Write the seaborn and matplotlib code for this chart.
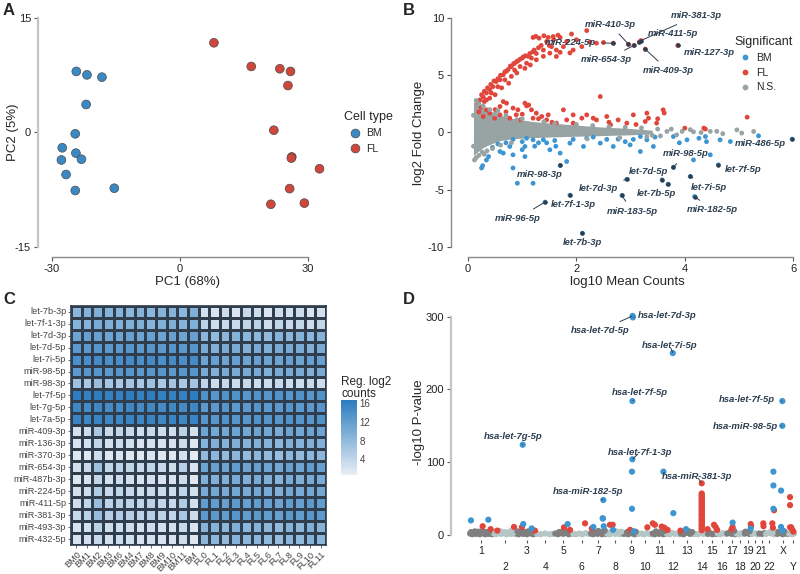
import numpy as np
import pandas as pd
import matplotlib
matplotlib.use('Agg')
import matplotlib.pyplot as plt
import seaborn as sns
from matplotlib.colors import LinearSegmentedColormap

sns.set_theme(style='ticks')
plt.rcParams['font.family'] = ['Liberation Sans', 'DejaVu Sans']
plt.rcParams['axes.unicode_minus'] = False

# ---------------- data ----------------
# A: PCA
bm_pc1 = [-24.3, -21.8, -18.3, -22.0, -24.55, -27.6, -24.4, -27.8, -23.1, -26.7, -24.55, -15.4]
bm_pc2 = [8.0, 7.55, 7.25, 3.67, -0.17, -2.0, -2.7, -3.6, -3.5, -5.5, -7.6, -7.3]
fl_pc1 = [7.95, 16.7, 23.4, 25.9, 25.3, 22.0, 26.2, 26.1, 32.7, 25.7, 21.3, 29.15]
fl_pc2 = [11.75, 8.65, 8.35, 8.0, 6.15, 0.3, -3.2, -3.35, -4.75, -7.35, -9.4, -9.25]

# B: MA plot (log10 mean counts, log2 fold change)
fl_pts = [(0.18, 2.6), (0.22, 2.85), (0.25, 3.3), (0.28, 3.1), (0.3, 3.6), (0.34, 3.45), (0.36, 3.9),
          (0.40, 3.75), (0.42, 4.2), (0.46, 4.0), (0.48, 4.5), (0.52, 4.45), (0.55, 4.7), (0.59, 4.6),
          (0.60, 5.0), (0.65, 5.05), (0.68, 5.3), (0.71, 5.35), (0.74, 5.5), (0.78, 5.8), (0.80, 5.75),
          (0.84, 6.0), (0.86, 6.05), (0.90, 6.2), (0.92, 6.25), (0.96, 6.4), (1.0, 6.5), (1.02, 6.6),
          (1.06, 6.7), (1.11, 6.65), (1.14, 6.9), (1.2, 7.05), (1.22, 7.2), (1.26, 6.9), (1.3, 7.4),
          (1.35, 7.6), (1.39, 7.2), (1.45, 7.95), (1.5, 7.6), (1.54, 7.5), (1.58, 8.1), (1.63, 7.2),
          (1.66, 8.5), (1.7, 8.3), (1.76, 7.5), (1.82, 7.95), (1.88, 6.95), (1.91, 8.6), (1.94, 7.2),
          (2.0, 8.1), (2.1, 7.5), (2.19, 8.9), (2.25, 7.9), (2.37, 7.8), (2.5, 7.86), (1.31, 8.24),
          (1.2, 8.3), (1.25, 8.4), (1.4, 8.45), (1.48, 8.3), (1.57, 8.38), (0.8, 4.9), (0.96, 5.76),
          (1.08, 6.05), (1.17, 6.5), (0.86, 5.45), (0.68, 4.6), (0.55, 4.0), (0.43, 3.45), (0.34, 2.85),
          (1.26, 6.35), (1.39, 6.65), (1.51, 6.93), (1.63, 6.64), (1.05, 5.6), (0.9, 5.2), (0.75, 4.3),
          (0.62, 3.9), (1.7, 7.0), (1.15, 5.9), (0.5, 3.3), (0.4, 3.0), (0.3, 2.7),
          (2.68, 7.8), (2.96, 7.71), (3.06, 7.6), (3.19, 8.03), (3.16, 7.89), (3.27, 7.28), (3.87, 7.6),
          (0.65, 2.7), (0.71, 2.56), (0.59, 2.27), (0.83, 2.13), (0.92, 1.98), (1.05, 2.56), (1.08, 2.33),
          (1.17, 1.98), (1.26, 1.69), (1.36, 1.4), (1.48, 1.54), (1.76, 1.98), (1.94, 1.54), (2.44, 3.14),
          (2.19, 1.54), (2.31, 1.25), (2.56, 1.4), (2.77, 1.1), (3.05, 1.54), (3.3, 1.69), (3.33, 1.25),
          (3.6, 1.98), (4.0, 0.38), (4.35, 0.38), (5.15, 1.34), (0.4, 1.69), (0.34, 1.98), (0.28, 1.4),
          (0.49, 1.25), (0.77, 1.25), (0.96, 1.1), (1.45, 1.1), (1.63, 0.82), (1.2, 1.25), (1.94, 0.82),
          (2.63, 0.67), (2.93, 0.82), (3.27, 0.96), (3.48, 0.82), (0.59, 1.54), (0.89, 1.54), (1.82, 1.1),
          (2.37, 1.1), (2.1, 1.25), (0.24, 2.2), (0.2, 1.8), (0.5, 2.0), (0.7, 1.8), (1.0, 1.6),
          (1.12, 2.4), (1.3, 1.2), (1.55, 0.9), (2.6, 0.9), (3.1, 0.7), (3.5, 1.2), (3.62, 1.7), (4.38, 0.3)]
bm_pts = [(0.25, -3.1), (0.27, -2.9), (0.34, -2.4), (0.38, -2.1), (0.59, -1.66), (0.65, -1.8), (0.83, -1.95),
          (1.05, -2.1), (1.05, -1.22), (1.08, -0.5), (0.83, -0.6), (0.77, -1.22), (1.2, -0.64), (1.23, -1.2),
          (1.39, -0.64), (1.45, -0.9), (1.51, -1.51), (1.62, -1.2), (1.7, -1.8), (1.82, -2.53), (1.7, -2.88),
          (0.83, -3.1), (0.91, -4.43), (1.2, -4.43), (1.88, -5.47), (1.42, -6.08), (2.11, -8.79), (2.84, -5.5),
          (2.93, -4.08), (3.58, -4.13), (3.69, -4.51), (3.79, -3.03), (4.10, -3.84), (4.18, -5.59),
          (4.62, -2.82), (5.98, -0.58), (2.19, -0.5), (2.31, -0.4), (2.44, -0.93), (2.56, -0.6),
          (2.68, -1.22), (2.99, -1.08), (3.05, -0.6), (3.18, -1.66), (3.42, -1.22), (3.45, -0.4),
          (3.79, -0.35), (4.04, -0.64), (4.16, -2.39), (4.26, -0.5), (4.38, -0.35), (4.47, -1.95),
          (4.65, -0.64), (4.84, -0.79), (5.36, -0.29), (2.13, -1.22), (1.94, -0.6), (1.88, -0.93),
          (3.18, -0.35), (2.77, -0.58), (2.9, -0.8), (3.3, -0.64), (0.45, -1.3), (0.55, -1.0), (0.7, -0.9),
          (1.0, -0.8), (1.3, -0.9), (1.6, -0.7), (1.0, -1.5), (3.9, -0.9), (4.4, -0.8)]
ns_pts = [(0.12, -2.4), (0.15, -2.2), (0.2, -2.0), (0.26, -1.7), (0.3, -1.9), (0.45, -1.4), (0.6, -1.1),
          (0.8, -0.9), (0.15, 2.8), (0.2, 2.5), (0.28, 2.3), (0.4, 2.0), (0.55, 1.9), (0.7, 1.5), (1.0, 1.2),
          (1.4, 0.95), (2.0, 0.7), (2.6, 0.5), (3.2, 0.4), (3.5, 0.3), (3.67, 0.09), (3.85, -0.2),
          (3.95, 0.1), (4.16, 0.06), (4.3, 0.0), (4.47, 0.1), (4.59, 0.1), (4.7, -0.1), (4.96, 0.23),
          (5.27, 0.09), (5.05, -0.05), (4.1, 0.25), (3.75, 0.3), (3.55, -0.3), (3.3, -0.35), (2.8, -0.45),
          (2.2, -0.55), (0.1, 1.5), (0.1, -1.2), (0.35, -1.6), (0.5, 1.6), (0.9, 1.1), (1.6, 0.8),
          (2.3, 0.6), (2.9, 0.45), (3.4, -0.25)]
# dense core of the N.S. cloud (envelope)
ns_core_x = [0.1, 0.15, 0.25, 0.35, 0.5, 0.6, 0.8, 1.2, 1.8, 2.4, 3.0, 3.4]
ns_core_hi = [2.7, 2.5, 2.2, 2.0, 1.7, 1.5, 1.25, 0.95, 0.72, 0.5, 0.35, 0.2]
ns_core_lo = [-2.0, -1.8, -1.4, -1.15, -0.85, -0.7, -0.55, -0.45, -0.35, -0.28, -0.2, -0.12]

b_names = ['miR-410-3p', 'miR-381-3p', 'miR-411-5p', 'miR-224-5p', 'miR-654-3p', 'miR-409-3p',
           'miR-127-3p', 'miR-486-5p', 'miR-98-5p', 'let-7f-5p', 'miR-98-3p', 'let-7d-5p', 'let-7d-3p',
           'let-7b-5p', 'let-7i-5p', 'let-7f-1-3p', 'miR-183-5p', 'miR-182-5p', 'miR-96-5p', 'let-7b-3p']
b_point = [(2.96, 7.71), (3.19, 8.03), (3.16, 7.89), (2.68, 7.8), (3.06, 7.6), (3.27, 7.28), (3.87, 7.6),
           (5.98, -0.58), (3.79, -3.03), (4.62, -2.82), (1.70, -2.88), (3.58, -4.13), (2.93, -4.08),
           (3.69, -4.51), (4.10, -3.84), (1.88, -5.47), (2.84, -5.5), (4.18, -5.59), (1.42, -6.08),
           (2.11, -8.79)]
b_text = [(2.62, 9.46), (4.22, 10.2), (3.79, 8.68), (1.89, 7.86), (2.56, 6.4), (3.70, 5.39), (4.45, 6.99),
          (5.39, -0.93), (4.01, -1.86), (5.07, -3.26), (1.33, -3.7), (3.33, -3.41), (2.40, -4.86),
          (3.48, -5.3), (4.44, -4.77), (1.94, -6.32), (3.03, -6.9), (4.51, -6.75), (0.92, -7.48),
          (2.11, -9.6)]

# C: heatmap of regularized log2 counts
samples = ['BM0', 'BM1', 'BM2', 'BM3', 'BM6', 'BM4', 'BM7', 'BM8', 'BM9', 'BM10', 'BM11', 'BM',
           'FL0', 'FL1', 'FL2', 'FL3', 'FL4', 'FL5', 'FL6', 'FL7', 'FL8', 'FL9', 'FL10', 'FL11']
mirnas = ['let-7b-3p', 'let-7f-1-3p', 'let-7d-3p', 'let-7d-5p', 'let-7i-5p', 'miR-98-5p', 'miR-98-3p',
          'let-7f-5p', 'let-7g-5p', 'let-7a-5p', 'miR-409-3p', 'miR-136-3p', 'miR-370-3p', 'miR-654-3p',
          'miR-487b-3p', 'miR-224-5p', 'miR-411-5p', 'miR-381-3p', 'miR-493-3p', 'miR-432-5p']
counts = [
    [8.5, 9, 9.5, 9, 9, 8.5, 9, 8.5, 9, 9, 8.5, 9.5, 2.5, 2, 3, 2, 3.5, 3, 2, 3, 2.5, 3, 2, 2.5],
    [9, 9, 10, 9.5, 9.5, 9.5, 9.5, 9, 9.5, 9.5, 9, 9.5, 4.5, 3, 3.5, 3.5, 4, 4.5, 3, 4, 3.5, 4, 3, 4],
    [11, 11.5, 11.5, 11, 11, 11.5, 11, 11.5, 11, 11.5, 11, 11.5, 8.5, 8, 8.5, 9, 8.5, 8.5, 8, 9, 8.5, 9, 8.5, 9],
    [12.5, 12.5, 13, 12.5, 12.5, 13, 12.5, 13, 12.5, 13, 12.5, 13, 10, 9.5, 10, 10, 9.5, 10, 9.5, 10, 10, 10, 9.5, 10],
    [14, 14, 14.5, 14, 14, 14.5, 14, 14.5, 14, 14.5, 14, 14.5, 11, 11.5, 11, 11.5, 11, 11.5, 11, 11, 11.5, 11, 11.5, 11.5],
    [12.5, 13, 13, 12.5, 13, 13, 12.5, 13, 13, 12.5, 13, 13, 10, 9.5, 10, 10, 10, 10, 9.5, 10, 10, 10, 9.5, 10],
    [7, 6, 7.5, 6.5, 6, 6.5, 6, 7, 6, 6.5, 6, 6.5, 4, 3, 3.5, 3, 3.5, 3, 3, 3.5, 3, 3, 3.5, 3],
    [16.5, 16, 16.5, 16, 16, 16.5, 16, 16.5, 16, 16, 16, 16.5, 13.5, 13, 13.5, 13.5, 13, 13.5, 13, 13.5, 13, 13.5, 13, 13.5],
    [15, 14.5, 15, 14.5, 14.5, 15, 14.5, 15, 14.5, 15, 14.5, 15, 12.5, 12.5, 13, 12.5, 12.5, 13, 12.5, 12.5, 13, 12.5, 12.5, 13],
    [15.5, 15, 15.5, 15, 15, 15.5, 15, 15.5, 15, 15.5, 15, 15.5, 13, 13, 13.5, 13, 13, 13.5, 13, 13, 13.5, 13, 13, 13.5],
    [2.5, 3, 6, 3.5, 4, 3.5, 3, 3.5, 3, 3, 4.5, 2.5, 11, 10.5, 10.5, 11, 10.5, 11, 10.5, 10, 11, 10.5, 11, 11],
    [2, 2.5, 4, 2.5, 3, 2.5, 2, 2.5, 2, 2, 3, 1.5, 9, 9.5, 9, 9.5, 9, 9.5, 9, 8.5, 9.5, 9, 9.5, 9.5],
    [1.5, 1.5, 3, 1.5, 2, 1.5, 1.5, 2, 1.5, 1.5, 2.5, 1, 8, 8.5, 8, 8.5, 8, 8.5, 8, 7.5, 8.5, 8, 8.5, 8.5],
    [2.5, 3.5, 7, 4, 4.5, 4, 3.5, 4, 3.5, 3, 5, 2, 11, 11.5, 11, 12, 11, 11.5, 11, 10.5, 11.5, 11, 12, 11.5],
    [1.5, 2, 4, 2.5, 3, 2.5, 2, 2.5, 2, 2, 3, 1.5, 9.5, 9.5, 9.5, 10, 9.5, 10, 9.5, 9, 10, 9.5, 10, 10],
    [2.5, 3, 5.5, 3.5, 4, 3.5, 3, 3.5, 3, 3, 4, 2.5, 10, 10.5, 10, 10.5, 10, 10.5, 10, 9.5, 10.5, 10, 10.5, 10.5],
    [3, 4, 7.5, 4.5, 5, 4.5, 4, 4.5, 4, 3.5, 5.5, 2.5, 12, 12, 11.5, 12.5, 11.5, 12, 11.5, 11, 12, 11.5, 12.5, 12],
    [3.5, 4.5, 7.5, 5, 5.5, 5, 4.5, 5, 4.5, 4, 6, 3, 12.5, 12.5, 12, 13, 12, 12.5, 12, 11.5, 12.5, 12, 13, 12.5],
    [2, 2.5, 4.5, 3, 3, 3, 2.5, 3, 2.5, 2.5, 3.5, 2, 9, 9, 8.5, 9.5, 8.5, 9, 8.5, 8, 9, 8.5, 9.5, 9],
    [2, 2.5, 3.5, 2.5, 3, 2.5, 2, 2.5, 2, 2, 3, 1.5, 8.5, 8.5, 8, 9, 8.5, 8.5, 8, 7.5, 8.5, 8, 9, 8.5],
]

# D: Manhattan plot (genome position in Mb, -log10 p)
chroms = ['1', '2', '3', '4', '5', '6', '7', '8', '9', '10', '11', '12', '13', '14', '15', '16',
          '17', '18', '19', '20', '21', '22', 'X', 'Y']
chrom_centre = [124, 355, 556, 731, 900, 1073, 1226, 1385, 1539, 1667, 1801, 1933, 2059, 2200,
                2299, 2387, 2481, 2559, 2637, 2700, 2763, 2834, 2966, 3060]
chrom_start = [20, 240, 456, 644, 815, 986, 1150, 1305, 1462, 1603, 1734, 1867, 1996, 2130,
               2250, 2343, 2434, 2520, 2598, 2668, 2731, 2798, 2900, 3013]
ns_snps = [(25, 2), (45, 1), (62, 3), (80, 1.5), (98, 2.5), (115, 1), (130, 3), (150, 2), (168, 1),
           (185, 2.5), (200, 1.5), (218, 3), (232, 1), (250, 2), (270, 1), (295, 2.5), (318, 1.5),
           (340, 3), (365, 1), (390, 2), (410, 1.5), (432, 2.5), (450, 1), (462, 2.5), (480, 1),
           (500, 3), (520, 1.5), (540, 2), (560, 1), (580, 3), (600, 2), (618, 1), (638, 2.5),
           (655, 1.5), (690, 1), (730, 2), (770, 1), (800, 1.5), (825, 2), (850, 1), (875, 2.5),
           (900, 1.5), (925, 3), (950, 1), (975, 2), (995, 1.5), (1020, 1), (1050, 2), (1080, 1),
           (1110, 2.5), (1140, 1.5), (1160, 2), (1180, 1), (1200, 3), (1220, 1.5), (1240, 2.5),
           (1262, 1), (1280, 3), (1298, 1.5), (1312, 2), (1335, 1), (1360, 2.5), (1385, 1.5),
           (1410, 2), (1435, 1), (1455, 2.5), (1470, 1.5), (1490, 2.5), (1510, 1), (1530, 3),
           (1550, 2), (1570, 1), (1590, 2.5), (1610, 1.5), (1635, 2), (1660, 1), (1685, 2.5),
           (1710, 1.5), (1728, 1), (1740, 2), (1760, 1), (1780, 3), (1800, 1.5), (1820, 2.5),
           (1840, 1), (1860, 2), (1875, 1.5), (1900, 1), (1925, 2.5), (1950, 1.5), (1975, 2),
           (1990, 1), (2005, 2), (2030, 1), (2060, 3), (2090, 1.5), (2120, 2), (2140, 1.5),
           (2165, 1), (2190, 2.5), (2215, 1.5), (2240, 2), (2258, 1.5), (2280, 2.5), (2300, 1),
           (2320, 2), (2338, 1.5), (2350, 2), (2375, 1), (2400, 2.5), (2425, 1.5), (2440, 2),
           (2460, 3), (2480, 1.5), (2500, 2.5), (2515, 1), (2528, 2), (2550, 1), (2572, 2.5),
           (2592, 1.5), (2605, 2), (2625, 3), (2645, 1.5), (2662, 2), (2675, 1.5), (2700, 2.5),
           (2725, 1), (2740, 2), (2765, 1.5), (2790, 2.5), (2805, 1.5), (2830, 3), (2855, 2),
           (2880, 1), (2895, 2.5), (2910, 1.5), (2935, 2.5), (2960, 1), (2985, 2), (3008, 1.5),
           (3020, 2), (3045, 1), (3068, 2),
           (35, 4), (70, 5), (105, 4.5), (140, 5.5), (175, 4), (210, 5), (260, 4.5), (305, 5.5),
           (350, 4), (400, 5), (440, 4), (470, 5), (510, 6), (530, 4.5), (570, 5), (610, 6.5),
           (860, 4), (890, 5), (940, 4.5), (1190, 4), (1230, 5.5), (1270, 4.5), (1290, 6),
           (1345, 4), (1400, 5), (1445, 4.5), (1500, 4), (1540, 5.5), (1580, 4.5), (1770, 5),
           (1810, 4), (1850, 5.5), (2040, 4.5), (2080, 5), (2110, 4), (2470, 4.5), (2505, 5.5),
           (2610, 4.5), (2650, 5), (2850, 4.5), (2890, 5), (2920, 4), (2975, 5)]
bm_snps = [(1551, 301), (1553, 299), (1928, 250), (1549, 184), (519, 124), (1549, 104), (1545, 87),
           (1545, 36), (1840, 87), (1276, 48), (1272, 22.5), (1933, 30), (2957, 184), (2957, 150),
           (2873, 87), (2873, 68), (2873, 36), (2945, 61), (2945, 11), (33, 20), (196, 21), (524, 15),
           (603, 9), (941, 15), (1182, 11), (1270, 23), (2490, 17), (2052, 8), (1367, 7), (2660, 9),
           (1280, 12), (1560, 5), (2960, 6)]
fl_snps = [(2200, 71), (2200, 57), (2200, 55), (2200, 53.5), (2200, 52), (2200, 50), (2200, 48.5),
           (2200, 47), (2200, 45), (2200, 43), (2200, 41.5), (2200, 40), (2200, 38), (2200, 36),
           (2200, 34.5), (2200, 33), (2200, 31), (2200, 29), (2200, 27.5), (2200, 26), (2200, 24),
           (2200, 22), (2200, 20.5), (2200, 19), (2200, 17), (2200, 15), (2200, 13.5), (2200, 12),
           (2200, 10), (2200, 8), (2200, 6.5), (3029, 52), (3029, 41), (2879, 34), (3029, 10.5),
           (3060, 4.6), (143, 12), (218, 8), (280, 6), (437, 11), (512, 11), (634, 6), (907, 10.5),
           (963, 7), (1104, 16), (1167, 9), (1338, 14), (1364, 14), (1527, 7), (1689, 10.5),
           (1740, 16), (1760, 14), (1824, 11.5), (1850, 10), (1880, 7), (2315, 14), (2330, 11),
           (2345, 7), (2481, 8), (2490, 11), (2660, 15), (2663, 12), (2778, 16), (2780, 12),
           (2863, 16), (2868, 10), (3040, 10.5), (3050, 7), (2000, 6), (2255, 8)]
d_names = ['hsa-let-7d-3p', 'hsa-let-7d-5p', 'hsa-let-7i-5p', 'hsa-let-7f-5p', 'hsa-let-7f-5p',
           'hsa-miR-98-5p', 'hsa-let-7g-5p', 'hsa-let-7f-1-3p', 'hsa-miR-381-3p', 'hsa-miR-182-5p']
d_point = [(1553, 299), (1551, 301), (1928, 250), (1549, 184), (2957, 184), (2957, 150), (519, 124),
           (1549, 104), (2200, 71), (1276, 48)]
d_text = [(1871, 302), (1245, 281), (1902, 260), (1620, 196), (2628, 186), (2606, 149), (431, 135),
          (1620, 114), (2153, 81), (1135, 60)]

# ---------------- figure ----------------
W, H = 800, 574
fig = plt.figure(figsize=(W / 100, H / 100), dpi=100)


def box(l, t, r, b):
    return [l / W, 1 - b / H, (r - l) / W, (b - t) / H]


blue, red, grey = '#3d95d2', '#e0463b', '#98a3a3'
lab_col = '#2c3e50'
tick_fs, title_fs = 8, 9.5


def style_axes(ax):
    ax.tick_params(labelsize=tick_fs, length=3, width=0.8, color='#555555', labelcolor='#222222', pad=2)
    for s in ax.spines.values():
        s.set_color('#8a8a8a')
        s.set_linewidth(1.0)


def place_labels(ax, x_px=None, y_px=None):
    # put axis titles at fixed pixel positions (ylabel right edge / xlabel top edge)
    pos = ax.get_position()
    if y_px is not None:
        ax.yaxis.set_label_coords(y_px / W, 0.5 * (pos.y0 + pos.y1), transform=fig.transFigure)
    if x_px is not None:
        ax.xaxis.set_label_coords(0.5 * (pos.x0 + pos.x1), 1 - x_px / H, transform=fig.transFigure)


# A
pca = pd.DataFrame({'PC1': bm_pc1 + fl_pc1, 'PC2': bm_pc2 + fl_pc2,
                    'Cell type': ['BM'] * len(bm_pc1) + ['FL'] * len(fl_pc1)})
axA = fig.add_axes(box(45, 15, 330, 250))
sns.scatterplot(data=pca, x='PC1', y='PC2', hue='Cell type', palette={'BM': '#3b89c4', 'FL': '#cf463b'},
                s=40, edgecolor='#4a4a4a', linewidth=0.5, ax=axA)
axA.set_xlim(-31.64, 35.16)
axA.set_ylim(-15.39, 15.39)
axA.set_xticks([-30, 0, 30])
axA.set_yticks([-15, 0, 15])
sns.despine(ax=axA, offset=5, trim=True)
style_axes(axA)
axA.spines['left'].set_color('#c4c4c4')
axA.spines['left'].set_linewidth(1.6)
axA.set_xlabel('PC1 (68%)', fontsize=title_fs)
axA.set_ylabel('PC2 (5%)', fontsize=title_fs)
place_labels(axA, x_px=276, y_px=19)
legA = axA.legend(title='Cell type', loc='upper left', bbox_to_anchor=(340 / W, 1 - 107 / H),
                  bbox_transform=fig.transFigure, frameon=False, fontsize=7.5, title_fontsize=9,
                  handletextpad=0.1, labelspacing=0.5, borderaxespad=0)
legA._legend_box.align = 'left'

# B
ma = pd.DataFrame(fl_pts + bm_pts + ns_pts, columns=['A', 'M'])
ma['Significant'] = ['FL'] * len(fl_pts) + ['BM'] * len(bm_pts) + ['N.S.'] * len(ns_pts)
axB = fig.add_axes(box(458, 15, 797, 250))
axB.fill_between(ns_core_x, ns_core_lo, ns_core_hi, color=grey, lw=0, zorder=1)
sns.scatterplot(data=ma, x='A', y='M', hue='Significant', hue_order=['BM', 'FL', 'N.S.'],
                palette={'BM': blue, 'FL': red, 'N.S.': grey}, s=12, linewidth=0, ax=axB, zorder=2)
for name, pt, tx in zip(b_names, b_point, b_text):
    axB.annotate(name, xy=pt, xytext=tx, ha='center', va='center', fontsize=6.8, fontweight='bold',
                 fontstyle='italic', color=lab_col,
                 arrowprops=dict(arrowstyle='-', color=lab_col, lw=0.7, shrinkA=2, shrinkB=0.5))
    axB.plot(*pt, 'o', ms=2.2, color=lab_col, zorder=3)
axB.set_xlim(-0.185, 6.07)
axB.set_ylim(-10.26, 10.26)
axB.set_xticks([0, 2, 4, 6])
axB.set_yticks([-10, -5, 0, 5, 10])
sns.despine(ax=axB, offset=5, trim=True)
style_axes(axB)
axB.set_xlabel('log10 Mean Counts', fontsize=title_fs)
axB.set_ylabel('log2 Fold Change', fontsize=title_fs)
place_labels(axB, x_px=276, y_px=425)
legB = axB.legend(title='Significant', loc='upper left', bbox_to_anchor=(730 / W, 1 - 32 / H),
                  bbox_transform=fig.transFigure, frameon=False, fontsize=7.5, title_fontsize=9,
                  handletextpad=0.1, labelspacing=0.45, borderaxespad=0, markerscale=1.2)
legB._legend_box.align = 'left'

# C
heat = pd.DataFrame(counts, index=mirnas, columns=samples)
cmap = LinearSegmentedColormap.from_list('regblue', ['#e9eef4', '#2b7cc0'])
axC = fig.add_axes(box(71, 305.7, 326, 545))
cax = fig.add_axes(box(340.7, 400, 356.7, 475))
sns.heatmap(heat, ax=axC, cmap=cmap, vmin=0.6, vmax=16.7, linewidths=1.0, linecolor='#2f3d4c',
            cbar_ax=cax, cbar_kws={'ticks': [4, 8, 12, 16]}, xticklabels=True, yticklabels=True)
for s in axC.spines.values():
    s.set_visible(True)
    s.set_color('#2f3d4c')
    s.set_linewidth(1.2)
axC.tick_params(axis='both', labelsize=6.6, length=2, width=0.6, color='#555555', labelcolor='#444444',
                pad=1.5, bottom=True, left=True)
plt.setp(axC.get_xticklabels(), rotation=45, ha='right', rotation_mode='anchor')
plt.setp(axC.get_yticklabels(), rotation=0)
axC.set_xlabel('')
axC.set_ylabel('')
cax.tick_params(length=3, width=0.8, color='white', direction='in', labelsize=7, labelcolor='#444444', pad=2)
cbar = axC.collections[0].colorbar
cbar.outline.set_visible(False)
fig.text(341 / W, 1 - 376 / H, 'Reg. log2\ncounts', ha='left', va='top', fontsize=8.5, linespacing=0.95)

# D
ns_df = pd.DataFrame(ns_snps, columns=['pos', 'logp'])
ns_df['grp'] = ['odd' if np.searchsorted(chrom_start, p, side='right') % 2 == 1 else 'even'
                for p in ns_df['pos']]
bm_df = pd.DataFrame(bm_snps, columns=['pos', 'logp'])
bm_df['grp'] = 'BM'
fl_df = pd.DataFrame(fl_snps, columns=['pos', 'logp'])
fl_df['grp'] = 'FL'
man = pd.concat([ns_df, fl_df, bm_df], ignore_index=True)
axD = fig.add_axes(box(458, 305, 797, 540))
sns.scatterplot(data=man, x='pos', y='logp', hue='grp',
                palette={'odd': '#7f7f7f', 'even': '#b5c6c6', 'BM': blue, 'FL': red},
                s=20, linewidth=0, legend=False, ax=axD)
for name, pt, tx in zip(d_names, d_point, d_text):
    axD.annotate(name, xy=pt, xytext=tx, ha='center', va='center', fontsize=6.8, fontweight='bold',
                 fontstyle='italic', color=lab_col,
                 arrowprops=dict(arrowstyle='-', color=lab_col, lw=0.7, shrinkA=2, shrinkB=0.5))
axD.set_xlim(-88.6, 3094.5)
axD.set_ylim(-6.9, 316)
axD.set_yticks([0, 100, 200, 300])
# odd chromosomes on the first label row (major ticks), even ones on the second (minor ticks)
axD.set_xticks(chrom_centre[0::2])
axD.set_xticklabels(chroms[0::2])
axD.set_xticks(chrom_centre[1::2], minor=True)
axD.set_xticklabels(chroms[1::2], minor=True)
sns.despine(ax=axD, offset=5, trim=True, bottom=True)
style_axes(axD)
axD.spines['left'].set_color('#c4c4c4')
axD.spines['left'].set_linewidth(1.6)
axD.tick_params(axis='x', which='major', length=2.5, pad=1.5, labelsize=7.5)
axD.tick_params(axis='x', which='minor', length=2.5, width=0.8, color='#555555', pad=13.5,
                labelsize=7.5, labelcolor='#222222')
axD.set_xlabel('')
axD.set_ylabel('-log10 P-value', fontsize=title_fs)
place_labels(axD, y_px=425)

for letter, x, y in [('A', 3, 3), ('B', 403, 3), ('C', 3, 292), ('D', 403, 292)]:
    fig.text(x / W, 1 - y / H, letter, ha='left', va='top', fontsize=12, fontweight='bold')

fig.savefig('out.png', dpi=100)
